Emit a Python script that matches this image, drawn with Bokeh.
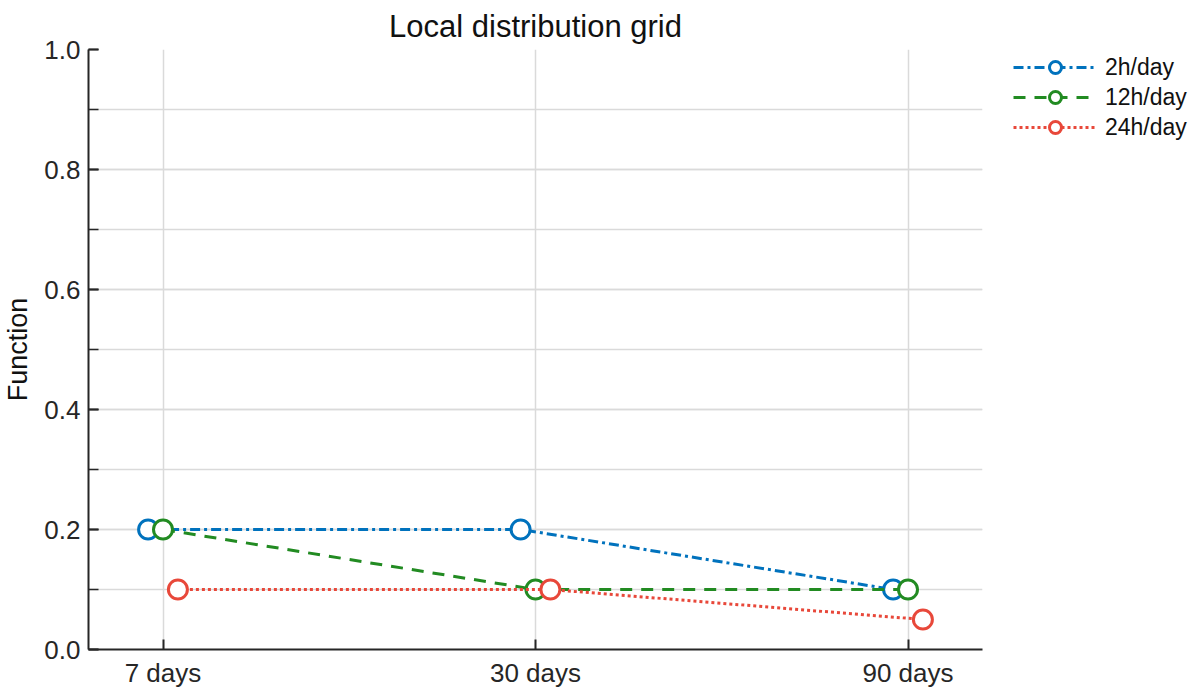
from bokeh.plotting import figure
from bokeh.models import (ColumnDataSource, Legend, LegendItem, Range1d, FixedTicker,
                          SingleIntervalTicker, PrintfTickFormatter)
from bokeh.transform import dodge
from bokeh.embed import file_html
from bokeh.resources import INLINE

categories = ["7 days", "30 days", "90 days"]
cat_pos = [0, 1, 2]
series_names = ["2h/day", "12h/day", "24h/day"]
s_2h = [0.2, 0.2, 0.1]
s_12h = [0.2, 0.1, 0.1]
s_24h = [0.1, 0.1, 0.05]

colors = ["#0072BD", "#228B22", "#E8483A"]
dashes = ["10 4 3 4", "12 9", "3 3"]
offsets = [-0.04, 0.0, 0.04]

FONT = "Liberation Sans"

p = figure(frame_width=894, frame_height=600, output_backend="svg", toolbar_location=None,
           x_range=Range1d(-0.2, 2.2), y_range=Range1d(0, 1),
           min_border_left=80, min_border_right=200, min_border_top=49, min_border_bottom=36,
           title="Local distribution grid")
p.outline_line_color = None
p.background_fill_color = "white"
p.border_fill_color = "white"

p.title.align = "center"
p.title.text_font = FONT
p.title.text_font_size = "31px"
p.title.text_font_style = "normal"
p.title.text_color = "#111111"
p.title.standoff = 12

# axes
for ax in (p.xaxis[0], p.yaxis[0]):
    ax.axis_line_width = 2
    ax.axis_line_color = "#262626"
    ax.major_tick_line_color = "#262626"
    ax.major_tick_line_width = 2
    ax.major_tick_in = 10
    ax.major_tick_out = 0
    ax.minor_tick_in = 10
    ax.minor_tick_out = 0
    ax.minor_tick_line_color = "#262626"
    ax.minor_tick_line_width = 1.5
    ax.major_label_text_font = FONT
    ax.major_label_text_font_size = "26px"
    ax.major_label_text_color = "#262626"

p.xaxis.ticker = FixedTicker(ticks=cat_pos)
p.xaxis.major_label_overrides = {c: l for c, l in zip(cat_pos, categories)}
p.xaxis.minor_tick_line_color = None
p.xaxis.major_label_standoff = 8

p.yaxis.ticker = SingleIntervalTicker(interval=0.2, num_minor_ticks=2)
p.yaxis.formatter = PrintfTickFormatter(format="%.1f")
p.yaxis.axis_label = "Function"
p.yaxis.axis_label_text_font = FONT
p.yaxis.axis_label_text_font_size = "27px"
p.yaxis.axis_label_text_font_style = "normal"
p.yaxis.axis_label_text_color = "#111111"
p.yaxis.major_label_standoff = 8
p.yaxis.axis_label_standoff = 8

p.xgrid.grid_line_color = "#dadada"
p.xgrid.grid_line_width = 1.5
p.ygrid.grid_line_color = "#dadada"
p.ygrid.grid_line_width = 1.5
p.ygrid.minor_grid_line_color = "#dadada"
p.ygrid.minor_grid_line_width = 1.5

items = []
for name, vals, col, dsh, off in zip(series_names, [s_2h, s_12h, s_24h], colors, dashes, offsets):
    src = ColumnDataSource(dict(x=cat_pos, y=vals))
    r1 = p.line(x=dodge("x", off), y="y", source=src, line_color=col, line_width=3,
                line_dash=dsh)
    r2 = p.scatter(x=dodge("x", off), y="y", source=src, marker="circle", size=19,
                   line_color=col, line_width=3, fill_color="white")
    items.append(LegendItem(label=name, renderers=[r1, r2]))

legend = Legend(items=items, location=(31, 507), border_line_color=None,
                background_fill_alpha=0, glyph_width=84, glyph_height=30,
                label_text_font=FONT, label_text_font_size="23px",
                label_text_color="#111111", spacing=0, padding=0, margin=0,
                label_standoff=8)
p.add_layout(legend, "right")

open("out.html", "w").write(file_html(p, INLINE))
